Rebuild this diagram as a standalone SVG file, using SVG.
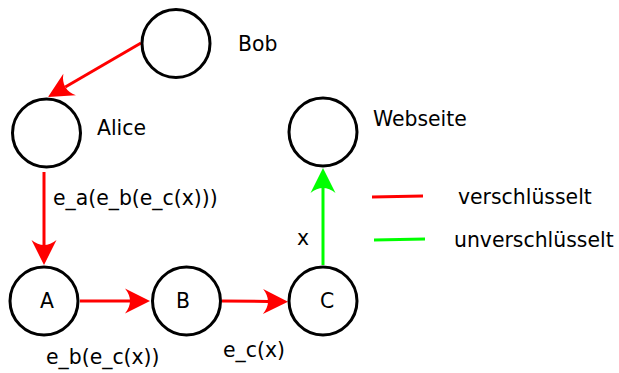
<svg xmlns="http://www.w3.org/2000/svg" width="619" height="373" viewBox="0 0 619 373">
  <style>
    .node { fill: #ffffff; stroke: #000000; stroke-width: 3; }
    .lbl { font-family: "DejaVu Sans", "Liberation Sans", sans-serif; font-size: 20.4px; fill: #000000; }
    .enc { fill: none; stroke: #ff0000; stroke-width: 3; }
    .plain { fill: none; stroke: #00ff00; stroke-width: 3; }
  </style>
  <defs>
    <!-- notched arrowheads; (0,0) sits at the notch, tip 20px ahead -->
    <marker id="headRed" markerUnits="userSpaceOnUse" viewBox="-10 -15 35 30" refX="0" refY="0" markerWidth="35" markerHeight="30" orient="auto" overflow="visible">
      <path d="M20,0 L-5,-12.5 Q5,0 -5,12.5 Z" fill="#ff0000"/>
    </marker>
    <marker id="headGreen" markerUnits="userSpaceOnUse" viewBox="-10 -15 35 30" refX="0" refY="0" markerWidth="35" markerHeight="30" orient="auto" overflow="visible">
      <path d="M20,0 L-5,-12.5 Q5,0 -5,12.5 Z" fill="#00ff00"/>
    </marker>
  </defs>

  <rect width="619" height="373" fill="#ffffff"/>

  <!-- connectors -->
  <g id="connectors">
    <path class="enc" d="M141,43 L65.3,87" marker-end="url(#headRed)"/>
    <path class="enc" d="M44,172 L44,245" marker-end="url(#headRed)"/>
    <path class="enc" d="M80,301 L130,301" marker-end="url(#headRed)"/>
    <path class="enc" d="M222,301 L268,301.5" marker-end="url(#headRed)"/>
    <path class="plain" d="M323,265 L323,188" marker-end="url(#headGreen)"/>
    <text class="lbl" x="53" y="205">e_a(e_b(e_c(x)))</text>
    <text class="lbl" x="46" y="364">e_b(e_c(x))</text>
    <text class="lbl" x="223" y="357">e_c(x)</text>
    <text class="lbl" x="297" y="245">x</text>
  </g>

  <!-- nodes -->
  <g id="bob">
    <circle class="node" cx="176" cy="43.5" r="34"/>
    <text class="lbl" x="238" y="51">Bob</text>
  </g>
  <g id="alice">
    <circle class="node" cx="46.5" cy="133" r="34"/>
    <text class="lbl" x="97" y="135">Alice</text>
  </g>
  <g id="webseite">
    <circle class="node" cx="323" cy="132" r="34"/>
    <text class="lbl" x="373" y="126">Webseite</text>
  </g>
  <g id="A">
    <circle class="node" cx="44" cy="301" r="34"/>
    <text class="lbl" x="40" y="308">A</text>
  </g>
  <g id="B">
    <circle class="node" cx="186.5" cy="301" r="34"/>
    <text class="lbl" x="176" y="308">B</text>
  </g>
  <g id="C">
    <circle class="node" cx="323" cy="301" r="34"/>
    <text class="lbl" x="320" y="308">C</text>
  </g>

  <!-- legend -->
  <g id="legend">
    <line class="enc" x1="372" y1="197" x2="423" y2="196"/>
    <text class="lbl" x="458" y="204">verschlüsselt</text>
    <line class="plain" x1="374" y1="240" x2="425" y2="239"/>
    <text class="lbl" x="454" y="247">unverschlüsselt</text>
  </g>
</svg>
